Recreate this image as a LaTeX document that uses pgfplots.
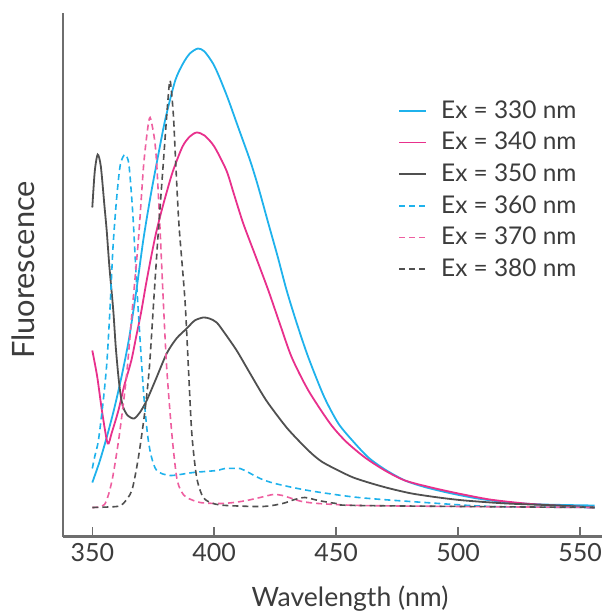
\documentclass[border=0pt]{standalone}
\usepackage{fontspec}
\setmainfont{Lato}
\usepackage{pgfplots}
\usepackage{pgfplotstable}
\pgfplotsset{compat=1.18}
\definecolor{cyanL}{HTML}{1FB2EC}
\definecolor{magL}{HTML}{E8308C}
\definecolor{grayL}{HTML}{505050}
\definecolor{magD}{HTML}{EE5FA0}
\definecolor{axc}{HTML}{6E6E6E}
\definecolor{txt}{HTML}{3C3C3C}

\pgfplotstableread{
nm h
350 54
353 75
356 100
359 128
362 160
365 197
368 245
371 298
374 342
377 381
380 418
384 456
387.2 473
390 483
393.3 488
396 485
399.5 473
402 460
405.6 438
410 408
414.7 376
418 350
422.2 313
426 280
429.7 246
434 212
438.6 179
445 140
450.9 113
457 95
463.2 79
470 67
478.2 56
487 49
497.4 43
508 38
520.6 34
535 32
556 31
}\exA

\pgfplotstableread{
nm h
350 186
352 160
354 125
356.3 93
358 104
360.7 126
363 150
366 176
368 200
370 224
372 252
374 278
376 302
378 322
380 340
383 365
387 390
390 400
392.8 404
396 401
400 390
405 366
408 343
411.9 313
417 280
422.2 246
427 212
431.8 179
438.6 146
447.5 113
454 95
461.8 79
470 66
478.2 56
489 49
500.1 43
513 37
527.5 33
540 31
556 29
}\exB

\pgfplotstableread{
nm h
350 329
351 365
352.2 382
353.5 370
355 330
355.9 306
357 270
358.6 226
359.6 190
360.7 160
361.7 140
362.7 129
364.5 121
367.1 118
369.5 124
372.3 136
376 157
380.5 183
384.5 198
388.7 208
392 216
395.5 219
398 218
401 214
404.4 203
409.2 186
414 166
418.8 146
422.2 133
430 108
438.6 86
444 75
450.9 66
457 59
464.6 53
472 48
481 43
492 39
502.8 36
520 33
541 31
556 29
}\exC

\pgfplotstableread{
nm h
350 68
351 80
352.5 96
354.5 136
356 175
357.3 230
358.5 290
360 339
361.5 372
363.4 382
365 372
366.6 323
368 260
369.5 200
371 145
372.5 105
374 82
376.4 66
381.9 61
391.4 64
401 66
404.4 68
410.6 68
412.6 66
418.8 58
424.9 53
438.6 46
459.1 39
486.4 34
513.8 30
556 29
}\exD

\pgfplotstableread{
nm h
350 29
355 32
358 55
361 100
364 160
366.5 230
369 300
371 370
372.6 406
373.7 419
375.4 399
376.4 373
377.8 306
379.1 236
380.5 169
382.6 103
384.6 59
386.5 45
388.7 39
394.2 34
402.4 33
408 34
413.3 36
418.8 39
424.2 42
428 41
431.8 38
436 35
442.7 33
460 31
500 30
556 29
}\exE

\pgfplotstableread{
nm h
350 29
360 30
362.7 33
366.2 46
368.9 79
371.6 126
373.4 169
375.3 240
377.1 306
379.1 373
380.8 430
381.9 456
383.2 423
383.9 389
384.9 339
385.7 306
388 236
389.4 169
390.8 103
392.8 59
395.5 39
399.6 33
405 31
420 30
428 33
433 37
437.2 39
442.7 36
450 33
459 31
556 29
}\exF

\begin{document}
\begin{tikzpicture}
\begin{axis}[
  scale only axis, width=269.65pt, height=261.75pt,
  xmin=337.86, xmax=559, ymin=0, ymax=523.5,
  axis x line=bottom, axis y line=left,
  axis line style={-, draw=axc, line width=1.1pt},
  ytick=\empty,
  xtick={350,400,450,500,550},
  tick align=inside, major tick length=5pt,
  tick style={draw=axc, line width=0.8pt},
  /pgf/number format/assume math mode=true,
  xticklabel style={font=\fontsize{12.5}{15}\selectfont, text=txt},
  xlabel={Wavelength (nm)},
  xlabel style={at={(axis description cs:0.5327,-0.1345)}, anchor=base, font=\fontsize{13.3}{16}\selectfont, text=txt},
  ylabel={Fluorescence},
  ylabel style={at={(axis description cs:-0.0514,0.509)}, anchor=base, rotate=0, font=\fontsize{15.4}{18}\selectfont, text=txt},
  legend style={at={(axis description cs:0.6217,0.8338)}, anchor=north west, draw=none, fill=none, inner sep=0pt,
    font=\fontsize{12.2}{14}\selectfont, text=txt, row sep=5.5pt,
    nodes={inner sep=0pt}},
  legend cell align=left,
  /tikz/every odd column/.append style={column sep=7pt},
  legend image code/.code={\draw[#1] (0pt,0pt) -- (13.5pt,0pt);},
  clip=false,
  every axis plot/.append style={smooth, tension=0.45},
]
\addplot[cyanL, line width=0.9pt] table[x=nm,y=h] {\exA};
\addlegendentry{Ex = 330 nm}
\addplot[magL, line width=0.9pt] table[x=nm,y=h] {\exB};
\addlegendentry{Ex = 340 nm}
\addplot[grayL, line width=0.9pt] table[x=nm,y=h] {\exC};
\addlegendentry{Ex = 350 nm}
\addplot[cyanL, line width=0.8pt, dash pattern=on 3pt off 2pt] table[x=nm,y=h] {\exD};
\addlegendentry{Ex = 360 nm}
\addplot[magD, line width=0.8pt, dash pattern=on 3pt off 2pt] table[x=nm,y=h] {\exE};
\addlegendentry{Ex = 370 nm}
\addplot[grayL, line width=0.8pt, dash pattern=on 3pt off 2pt] table[x=nm,y=h] {\exF};
\addlegendentry{Ex = 380 nm}
\coordinate (bbsw) at (axis description cs:-0.11627,-0.15186);
\coordinate (bbne) at (axis description cs:1,1.02483);
\end{axis}
\pgfresetboundingbox
\path[use as bounding box] (bbsw) rectangle (bbne);
\end{tikzpicture}
\end{document}
